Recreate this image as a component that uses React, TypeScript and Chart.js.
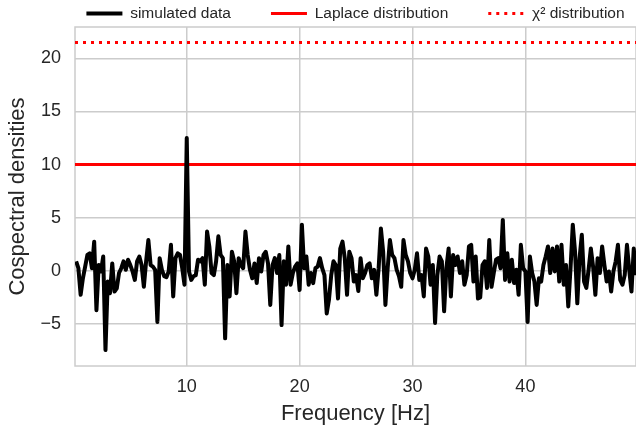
import React, { useEffect, useRef } from 'react';
import { Chart, registerables } from 'chart.js';

Chart.register(...registerables);

// Cospectral density values, one every 0.2 Hz starting at 0.2 Hz
const VALUES = [
  0.9, 0.25, -2.25, -0.7, 0.4, 1.5, 1.65, 0.25, 2.75, -3.7,
  0.55, -0.05, 1.35, -7.45, -1.0, -2.1, 0.7, -1.95, -1.65, -0.2,
  0.25, 0.9, 0.1, 1.05, 0.55, -0.05, -0.85, 0.9, 1.35, 0.55,
  -1.5, 0.9, 2.9, 0.55, 0.4, 0.1, -4.8, 1.2, 0.1, -0.5,
  -0.6, -0.05, 2.45, -2.4, 1.2, 1.65, 1.5, 0.25, -1.3, 12.5,
  -0.05, -0.85, -0.5, -0.4, 1.05, 0.9, 1.2, -1.3, 3.7, 2.3,
  -0.2, -0.4, 0.9, 3.25, 1.5, 1.2, -6.35, 0.55, -2.4, 1.8,
  0.9, -2.1, 1.2, 0.55, 0.25, 3.7, 1.5, 0.1, -0.7, 0.7,
  -1.15, 1.2, -0.05, 1.5, 1.8, 0.7, -3.2, 0.55, 1.2, -0.2,
  1.5, -5.1, 0.9, -1.3, 2.3, -1.3, -0.2, 0.4, 0.7, -1.8,
  4.35, 0.25, 1.35, -1.3, -0.2, -1.15, 0.25, 0.4, 1.2, 0.25,
  -0.4, -4.0, -2.7, -0.4, 0.9, 0.55, -2.6, 2.1, 2.75, 1.2,
  -2.25, 1.8, 1.2, -1.0, -0.4, -1.9, 1.2, -0.7, -0.2, 0.55,
  0.7, -0.7, 0.1, -2.25, 0.25, 4.0, 1.8, -3.2, 0.25, 2.9,
  1.5, 1.2, 0.1, -0.5, -1.5, 2.9, 1.5, 0.9, -0.2, -0.7,
  0.1, 1.65, -0.85, -0.4, -2.4, 2.1, 1.35, -1.3, 0.55, -4.9,
  -0.4, 1.35, 0.9, -3.8, 0.25, 2.1, -2.4, 1.5, 0.55, 1.35,
  -0.2, 0.9, -1.3, -0.4, 2.3, 2.45, -1.0, 1.35, -2.6, -2.5,
  0.55, 0.9, -1.6, 2.9, -1.5, -0.2, 1.05, 1.2, 0.25, 4.8,
  -0.85, 1.65, -1.0, 1.05, -1.15, 0.1, -2.25, 2.45, 0.25, -0.05,
  -4.8, 1.35, -0.2, -1.0, -3.2, -0.7, -1.0, 0.55, 1.35, 2.3,
  -0.2, 2.1, -0.05, 2.3, -1.0, 2.45, -1.3, 0.55, -3.35, 0.25,
  4.35, 1.8, -3.05, 1.2, 3.4, -1.0, -1.6, 0.1, 2.1, 0.4,
  -2.25, 1.2, -0.2, 2.3, 0.55, -1.0, -0.05, -1.95, -0.05, 0.9,
  2.45, -0.85, -1.3, -0.4, 2.45, 0.1, -1.95, 2.1, -0.4,
];

// Frequency grid (Hz) for the values above
const FREQ_STEP = 0.2;
const FREQS = VALUES.map((_, i) => Math.round((i + 1) * FREQ_STEP * 10) / 10);

const LAPLACE_LEVEL = 10;
const CHI2_LEVEL = 21.5;

const X_RANGE = [0.1, 49.8];
const Y_RANGE = [-8.95, 22.95];
const X_TICKS = [10, 20, 30, 40];
const Y_TICKS = [-5, 0, 5, 10, 15, 20];

const SERIES_LABELS = ['simulated data', 'Laplace distribution', 'χ² distribution'];
const X_TITLE = 'Frequency [Hz]';
const Y_TITLE = 'Cospectral densities';

// Layout / style
const W = 636;
const H = 430;
const Y_AXIS_W = 75;
const X_AXIS_H = 64;
const LEGEND_H = 27;
const LEGEND_Y = 13.5;
const LEGEND_PAD = 40;
const LEGEND_FONT = 15.5;
const FONT = 'Liberation Sans';
const TEXT = '#262626';
const GRID = '#cccccc';
const RED = '#ff0000';

const framePlugin = {
  id: 'frame',
  beforeDatasetsDraw(chart: any) {
    const { ctx, chartArea: a } = chart;
    ctx.save();
    ctx.strokeStyle = GRID;
    ctx.lineWidth = 1.5;
    ctx.strokeRect(a.left, a.top, a.right - a.left, a.bottom - a.top);
    ctx.restore();
  },
};

// centre the legend row over the plot area, just above it
const legendPlacePlugin = {
  id: 'legendPlace',
  afterLayout(chart: any) {
    const lg = chart.legend;
    if (!lg) return;
    const a = chart.chartArea;
    const cx = (a.left + a.right) / 2;
    const half = 420;
    lg.left = cx - half;
    lg.right = cx + half;
    lg.width = 2 * half;
    lg.top = LEGEND_Y - LEGEND_PAD - LEGEND_FONT / 2;
    lg.bottom = a.top;
    lg.height = lg.bottom - lg.top;
  },
};

const fmt = (v: any) => String(v).replace('-', '\u2212');

export default function App() {
  const ref = useRef<HTMLCanvasElement>(null);

  useEffect(() => {
    document.body.style.margin = '0';
    const canvas = ref.current;
    if (!canvas) return;
    const chart = new Chart(canvas, {
      type: 'line',
      data: {
        datasets: [
          {
            label: SERIES_LABELS[0],
            data: FREQS.map((f, i) => ({ x: f, y: VALUES[i] })),
            borderColor: '#000000',
            backgroundColor: '#000000',
            borderWidth: 4,
            borderJoinStyle: 'round',
            pointRadius: 0,
            tension: 0,
          },
          {
            label: SERIES_LABELS[1],
            data: [
              { x: X_RANGE[0], y: LAPLACE_LEVEL },
              { x: X_RANGE[1], y: LAPLACE_LEVEL },
            ],
            borderColor: RED,
            backgroundColor: RED,
            borderWidth: 3,
            pointRadius: 0,
          },
          {
            label: SERIES_LABELS[2],
            data: [
              { x: X_RANGE[0], y: CHI2_LEVEL },
              { x: X_RANGE[1], y: CHI2_LEVEL },
            ],
            borderColor: RED,
            backgroundColor: RED,
            borderWidth: 3,
            borderDash: [3, 5],
            pointRadius: 0,
          },
        ],
      },
      options: {
        responsive: false,
        animation: false,
        layout: { padding: 0 },
        plugins: {
          legend: {
            position: 'top',
            maxHeight: LEGEND_H,
            labels: {
              usePointStyle: true,
              pointStyle: 'line',
              pointStyleWidth: 36,
              padding: LEGEND_PAD,
              color: TEXT,
              font: { family: FONT, size: LEGEND_FONT },
              generateLabels: (ch: any) => {
                const items = (Chart.defaults as any).plugins.legend.labels.generateLabels(ch);
                items.forEach((it: any) => {
                  const ds: any = ch.data.datasets[it.datasetIndex];
                  it.lineDash = ds.borderDash || [];
                  it.lineWidth = ds.borderWidth;
                  it.strokeStyle = ds.borderColor;
                  it.lineCap = 'butt';
                });
                return items;
              },
            },
          },
          tooltip: { enabled: false },
        },
        scales: {
          x: {
            type: 'linear',
            min: X_RANGE[0],
            max: X_RANGE[1],
            afterBuildTicks: (s: any) => {
              s.ticks = X_TICKS.map((v) => ({ value: v }));
            },
            afterFit: (s: any) => {
              s.height = X_AXIS_H;
            },
            grid: { color: GRID, lineWidth: 1.5, drawTicks: false },
            border: { display: false },
            ticks: {
              padding: 10,
              color: TEXT,
              font: { family: FONT, size: 18 },
              maxRotation: 0,
              autoSkip: false,
              callback: fmt,
            },
            title: {
              display: true,
              text: X_TITLE,
              color: TEXT,
              font: { family: FONT, size: 22 },
              padding: { top: 0, bottom: 3 },
            },
          },
          y: {
            type: 'linear',
            min: Y_RANGE[0],
            max: Y_RANGE[1],
            afterBuildTicks: (s: any) => {
              s.ticks = Y_TICKS.map((v) => ({ value: v }));
            },
            afterFit: (s: any) => {
              s.width = Y_AXIS_W;
            },
            grid: { color: GRID, lineWidth: 1.5, drawTicks: false },
            border: { display: false },
            ticks: {
              padding: 14,
              color: TEXT,
              font: { family: FONT, size: 18 },
              autoSkip: false,
              callback: fmt,
            },
            title: {
              display: true,
              text: Y_TITLE,
              color: TEXT,
              font: { family: FONT, size: 22 },
              padding: { top: 5, bottom: 0 },
            },
          },
        },
      },
      plugins: [framePlugin, legendPlacePlugin],
    } as any);
    return () => chart.destroy();
  }, []);

  return <canvas ref={ref} width={W} height={H} style={{ display: 'block' }} />;
}
